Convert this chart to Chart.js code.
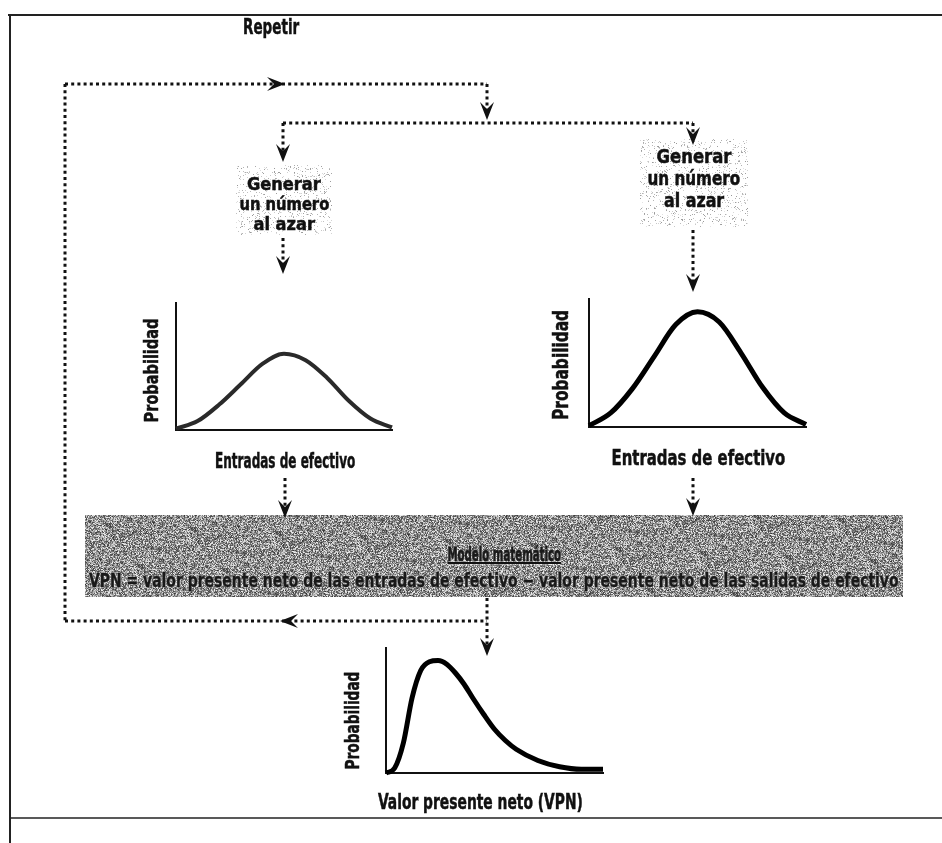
<!DOCTYPE html>
<html>
<head>
<meta charset="utf-8">
<script src="https://cdn.jsdelivr.net/npm/chart.js@4.4.0/dist/chart.umd.min.js"></script>
<style>
  body { margin: 0; background: #fff; }
  #page { position: relative; width: 942px; height: 843px; overflow: hidden; background: #fff;
          font-family: "DejaVu Sans Condensed", "Liberation Sans Narrow", "DejaVu Sans", sans-serif;
          font-weight: bold; color: #111; }
  .lbl { position: absolute; white-space: nowrap; line-height: 0.85; -webkit-text-stroke: 0.5px #111; }
  .box { position: absolute; }
  .wrap { position: absolute; }
  svg { position: absolute; left: 0; top: 0; }
</style>
</head>
<body>
<div id="page">
  <div class="box" id="boxL" style="left:236px;top:165px;width:96px;height:70px;"></div>
  <div class="box" id="boxR" style="left:640px;top:139px;width:108px;height:88px;"></div>
  <div class="box" id="band" style="left:85px;top:515px;width:818px;height:82px;"></div>

  <div class="wrap" id="wrapL"><canvas id="chartL"></canvas></div>
  <div class="wrap" id="wrapR"><canvas id="chartR"></canvas></div>
  <div class="wrap" id="wrapB"><canvas id="chartB"></canvas></div>

  <svg id="lines" width="942" height="843"></svg>
</div>

<script>
// Curve data (x as fraction of the axis, y as % of axis height)
const leftX = [0, 0.1, 0.2, 0.3, 0.4, 0.5, 0.6, 0.7, 0.8, 0.9, 1.0];
const leftY = [1, 7, 20, 36, 52, 60, 55, 41, 23, 9, 2];

const rightX = [0, 0.1, 0.2, 0.3, 0.4, 0.5, 0.6, 0.7, 0.8, 0.9, 1.0];
const rightY = [1, 11, 30, 55, 80, 90, 82, 58, 31, 11, 2];

const bottomX = [0, 0.04, 0.08, 0.12, 0.16, 0.20, 0.24, 0.28, 0.32, 0.36, 0.40, 0.45, 0.50, 0.55, 0.60, 0.70, 0.80, 0.90, 1.0];
const bottomY = [0, 4, 24, 60, 82, 89, 90, 87, 80, 71, 60, 47, 35, 26, 19, 10, 5, 3, 3];

const yTitle = 'Probabilidad';
const xTitleIn = 'Entradas de efectivo';
const xTitleNpv = 'Valor presente neto (VPN)';
const randomLines = ['Generar', 'un número', 'al azar'];
const loopText = 'Repetir';
const modelTitle = 'Modelo matemático';
const modelFormula = 'VPN = valor presente neto de las entradas de efectivo − valor presente neto de las salidas de efectivo';

const page = document.getElementById('page');

// simple seeded generator, only for the speckle texture
let seed = 12345;
const rnd = () => { seed = (seed * 1103515245 + 12345) % 2147483648; return seed / 2147483648; };

function speckle(el, kind) { // paint a grainy grey background
  const w = el.offsetWidth, h = el.offsetHeight;
  const c = document.createElement('canvas');
  c.width = w; c.height = h;
  const g = c.getContext('2d');
  const img = g.createImageData(w, h);
  for (let i = 0; i < w * h; i++) {
    let v;
    if (kind === 'band') {
      v = 150 + (rnd() - 0.5) * 150;
      if (rnd() < 0.12) v = 50 + rnd() * 50;
      if (rnd() < 0.06) v = 235;
    } else {
      v = rnd() < 0.10 ? 150 + rnd() * 80 : 255;
    }
    img.data[i * 4] = v; img.data[i * 4 + 1] = v; img.data[i * 4 + 2] = v; img.data[i * 4 + 3] = 255;
  }
  g.putImageData(img, 0, 0);
  el.style.backgroundImage = 'url(' + c.toDataURL() + ')';
}
speckle(document.getElementById('boxL'), 'box');
speckle(document.getElementById('boxR'), 'box');
speckle(document.getElementById('band'), 'band');

// text label centred on cx,cy and squeezed to width w (the original face is very narrow)
function label(text, cx, cy, w, size, rot, extra) {
  const d = document.createElement('div');
  d.className = 'lbl';
  d.textContent = text;
  d.style.fontSize = size + 'px';
  if (extra) Object.assign(d.style, extra);
  page.appendChild(d);
  const k = w / d.offsetWidth;
  d.style.left = (cx - d.offsetWidth / 2) + 'px';
  d.style.top = (cy - d.offsetHeight / 2) + 'px';
  d.style.transform = (rot ? 'rotate(-90deg) ' : '') + 'scaleX(' + k + ')';
  return d;
}

label(loopText, 271, 27, 56, 22);

label(randomLines[0], 284, 183, 74, 18);
label(randomLines[1], 284, 203, 90, 18);
label(randomLines[2], 284, 223, 61, 18);

label(randomLines[0], 694, 156, 75, 20);
label(randomLines[1], 694, 178, 93, 20);
label(randomLines[2], 694, 200, 60, 20);

label(xTitleIn, 285, 462, 140, 21);
label(xTitleIn, 698, 458, 174, 22);
label(xTitleNpv, 480, 802, 205, 22);

label(yTitle, 151, 370, 104, 20, true);
label(yTitle, 561, 365, 110, 21, true);
label(yTitle, 352, 720, 98, 20, true);

const haze = { color: '#1a1a1a', textShadow: '0 0 2px #fff, 0 0 1px #fff' };
label(modelTitle, 504, 554, 114, 20, false, Object.assign({ textDecoration: 'underline' }, haze));
label(modelFormula, 494, 580, 810, 19, false, haze);

function makeCurve(canvasId, wrapId, xs, ys, box, color, lw) {
  const wrap = document.getElementById(wrapId);
  wrap.style.width = (box.w + 20) + 'px';
  wrap.style.height = (box.h + 20) + 'px';
  const axis = {
    type: 'linear',
    grid: { display: false },
    ticks: { display: false },
    border: { display: true, color: '#111', width: 2 }
  };
  const chart = new Chart(document.getElementById(canvasId), {
    type: 'line',
    data: {
      datasets: [{
        data: xs.map((x, i) => ({ x: x, y: ys[i] })),
        borderColor: color,
        borderWidth: lw,
        pointRadius: 0,
        cubicInterpolationMode: 'monotone',
        clip: false,
        fill: false
      }]
    },
    options: {
      responsive: true,
      maintainAspectRatio: false,
      animation: false,
      layout: { padding: { top: 4, right: 6, left: 2, bottom: 2 } },
      plugins: { legend: { display: false }, tooltip: { enabled: false } },
      scales: {
        x: Object.assign({}, axis, { min: 0, max: 1 }),
        y: Object.assign({}, axis, { min: 0, max: 100 })
      }
    }
  });
  // size the wrapper so the plot area matches the box, then move it into place
  const a = chart.chartArea;
  wrap.style.width = (box.w + chart.width - (a.right - a.left)) + 'px';
  wrap.style.height = (box.h + chart.height - (a.bottom - a.top)) + 'px';
  chart.resize();
  const b = chart.chartArea;
  wrap.style.left = (box.x - b.left) + 'px';
  wrap.style.top = (box.y - b.top) + 'px';
  return chart;
}

makeCurve('chartL', 'wrapL', leftX, leftY, { x: 176, y: 303, w: 216, h: 127 }, '#2a2a2a', 4);
makeCurve('chartR', 'wrapR', rightX, rightY, { x: 589, y: 299, w: 217, h: 128 }, '#000', 5);
makeCurve('chartB', 'wrapB', bottomX, bottomY, { x: 386, y: 648, w: 217, h: 125 }, '#000', 5);

// dotted connectors and arrowheads
const svg = document.getElementById('lines');
const NS = 'http://www.w3.org/2000/svg';
function dots(x1, y1, x2, y2) {
  const l = document.createElementNS(NS, 'line');
  l.setAttribute('x1', x1); l.setAttribute('y1', y1); l.setAttribute('x2', x2); l.setAttribute('y2', y2);
  l.setAttribute('stroke', '#111'); l.setAttribute('stroke-width', 3);
  l.setAttribute('stroke-dasharray', '3 3.2');
  svg.appendChild(l);
}
function arrow(x, y, dir) { // tip at x,y
  const s = { down: [0, 1], up: [0, -1], right: [1, 0], left: [-1, 0] }[dir];
  const px = -s[1], py = s[0];
  const pts = [
    [x, y],
    [x - s[0] * 18 + px * 7, y - s[1] * 18 + py * 7],
    [x - s[0] * 11, y - s[1] * 11],
    [x - s[0] * 18 - px * 7, y - s[1] * 18 - py * 7]
  ];
  const p = document.createElementNS(NS, 'polygon');
  p.setAttribute('points', pts.map(q => q.join(',')).join(' '));
  p.setAttribute('fill', '#111');
  svg.appendChild(p);
}
function rule(x1, y1, x2, y2, w) {
  const l = document.createElementNS(NS, 'line');
  l.setAttribute('x1', x1); l.setAttribute('y1', y1); l.setAttribute('x2', x2); l.setAttribute('y2', y2);
  l.setAttribute('stroke', '#222'); l.setAttribute('stroke-width', w);
  svg.appendChild(l);
}

// frame
rule(8, 15, 942, 15, 2);
rule(10, 15, 10, 843, 2);
rule(10, 818, 942, 818, 1.5);

// loop
dots(65, 84, 487, 84);
arrow(285, 84, 'right');
dots(487, 84, 487, 112);
arrow(487, 120, 'down');
dots(65, 84, 65, 621);
dots(65, 621, 487, 621);
arrow(280, 621, 'left');
dots(487, 598, 487, 645);
arrow(487, 656, 'down');

// split
dots(283, 123, 693, 123);
dots(283, 123, 283, 152);
arrow(283, 162, 'down');
dots(693, 123, 693, 135);
arrow(693, 145, 'down');

// from random numbers to distributions
dots(283, 238, 283, 264);
arrow(283, 274, 'down');
dots(693, 230, 693, 282);
arrow(693, 292, 'down');

// into the model
dots(285, 478, 285, 508);
arrow(285, 518, 'down');
dots(693, 478, 693, 506);
arrow(693, 516, 'down');
</script>
</body>
</html>
